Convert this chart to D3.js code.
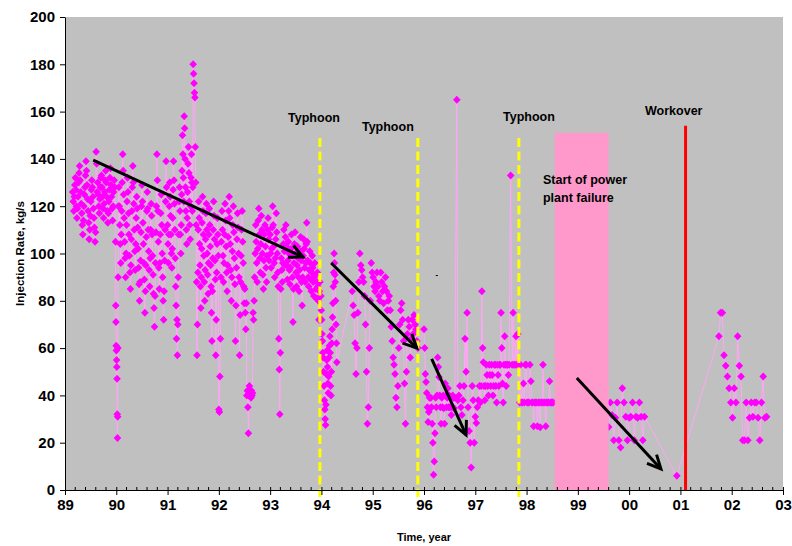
<!DOCTYPE html>
<html><head><meta charset="utf-8">
<script src="https://cdn.jsdelivr.net/npm/d3@7"></script>
<style>
body{margin:0;background:#fff;}
svg{display:block;}
text{font-family:"Liberation Sans",Arial,sans-serif;font-weight:bold;fill:#000;}
</style>
</head><body>
<svg id="chart" width="792" height="546"></svg>
<script>
// ---------- data ----------
const xTickYears = [89,90,91,92,93,94,95,96,97,98,99,100,101,102,103];
const yTicks = [0,20,40,60,80,100,120,140,160,180,200];

// time spans [start, end] (decimal year, 89 = 1989) for each block of readings
const segSpans = [
  [89.15, 89.97], [89.985, 90.04], [90.05, 90.98], [91.0, 91.99], [92.0, 92.98],
  [93.0, 93.98], [93.99, 94.3], [94.6, 95.88], [96.0, 96.6], [96.64, 96.64],
  [96.66, 97.08], [97.1, 97.66], [97.69, 97.69], [97.72, 98.52], [99.6, 100.3],
  [100.93, 100.93], [101.75, 102.68]
];
// injection rate readings, kg/s
const rate1989 = [126,122,118,124,129,132,127,120,115,119,124,130,134,137,131,126,121,117,112,108,
  114,120,125,128,133,139,135,129,123,118,113,106,110,116,122,127,131,128,124,119,
  115,111,105,109,143,138,126,130,125,120,117,123,128,132,133,128,124,119,115,121,
  126,131,135,130,124,118,113,117,122,127,132,136,129,124,119,114,120,126,131,128];
const rate1990drop = [105,78,71,61,59,55,52,47,32,22,31,60,90,120];
const rate1990 = [128,120,112,104,96,108,118,130,142,135,125,115,105,98,90,100,112,122,132,126,
  117,108,99,92,85,95,106,118,128,137,130,121,110,101,93,104,115,124,119,111,
  102,94,87,80,88,97,109,120,129,122,113,104,96,89,75,84,95,107,118,126,
  119,110,101,93,86,98,110,121,116,108,99,91,83,77,69,82,96,109,120,142,
  131,118,105,94,85,96,108,117,125,112,100,90,80,72,84,97,110,122,139,128];
const rate1991 = [112,104,96,108,120,130,124,116,108,100,94,102,115,127,139,131,121,110,98,86,
  78,64,72,57,70,90,108,122,128,118,108,100,112,125,135,150,142,132,122,158,
  153,140,128,118,110,104,115,126,138,145,134,122,112,106,120,132,142,130,118,128,
  180,176,172,168,166,145,130,112,88,57,70,92,110,122,115,104,95,86,77,90,
  102,113,124,118,108,99,88,80,93,106,117,121,110,100,91,83,96,108,119,112,
  103,95,86,75,63,84,98,110,122,116,106,97,89,57,72,92,104,115,108,99];
const rate1992 = [34,33,48,64,90,105,118,110,99,88,96,108,121,114,103,92,84,95,107,118,
  124,115,104,93,80,90,101,112,120,109,98,87,63,78,94,106,117,111,100,90,
  57,74,88,99,110,118,105,96,86,79,85,75,68,79,40,42,35,24,40,44,
  41,40,39,42,40,41,75,72,80,90,100,112,105,96,88,102,114,119,108,98,
  92,104,116,110,100,91,85,97,108,112,103,94,88,99,110,115,106,97];
const rate1993 = [108,100,94,102,111,120,112,103,96,90,98,106,117,109,100,92,86,64,51,32,
  58,85,98,93,88,96,104,110,101,95,107,112,103,95,89,97,105,100,93,87,
  94,102,108,99,90,71,85,96,104,109,100,92,86,95,103,98,90,84,93,101,
  107,97,88,78,90,99,106,102,94,88,96,104,113,105,97,90,86,93,101,96,
  89,84,92,99,94,88,82,90,96,91,85,81,88,92,86,80,72,84,88,82];
const rate1994a = [82,76,72,66,63,58,56,50,44,38,34,30,27.5,36,49,55,59,52,45,41,
  48,56,61,65,58,44,40,50,62,68,73,79,86,92,100,96,91,88,80,70,62,54];
const rate1994b = [84,78,74,62,49,60,75,88,100,95,93,90,88,82,70,50,28,35,
  60,80,96,92,90,86,84,88,92,86,82,80,92,88,84,79,86,90,84,76,80,82,
  76,69,63,56,53,49,39,35,44,60,
  70,76,79,72,63,45,28,50,66,72,69,56,64,72,66,74,70,68,63,60];
const rate1996a = [68,60,49,45.7,41,35,28.8,33,39,34.6,39,35,28,20,6.5,12,24,39,35,40,
  56,52,47.8,40,35,28,39,35,40,34.6,28,45,40,35,39,43,35,40,35,39,31.7,35,40,39,34.6,39];
const rate1996spike = [165];
const rate1996b = [38,40,44,35,31.7,38,44,64,50,75,35,25,20,9.5,44,38,20,31,28.3,35,38,44];
const rate1997a = [37,44,84,60,54,44,38,44,53,48.6,44,40,53,48.6,44,53,48.6,40,44,53,
  53,44,37,53,48.6,44,53,53,75,60,45,37,53,65,53,44,53,53,48.6,53];
const rate1997spike = [133];
const rate1997b = [53,75,53,53,65,53,66,53,37,53,37,37,45,37,53,53,37,37,37,53,
  46,37,37,27,37,37,37,27,37,37,26.5,37,37,53,37,37,27,37,37,37,46,37,37,37,37];
const rate1999 = [26.6,37,31.7,21,30.5,37,21,18,43,37,31,21,30.5,31,37,21,31,30.5,37,31,21,31];
const rate2000 = [6];
const rate2001 = [65,75,75,57,52.5,48,43,37,30.5,43,37,65,52.5,48,21,21,37,21,30.5,37,31,37,37,30.5,21,37,48,30.5,31];
const segValues = [rate1989, rate1990drop, rate1990, rate1991, rate1992, rate1993, rate1994a, rate1994b,
  rate1996a, rate1996spike, rate1996b, rate1997a, rate1997spike, rate1997b, rate1999, rate2000, rate2001];

// annotations (decimal year / kg/s)
const typhoonYears = [93.97, 95.88, 97.85];
const typhoonLabelPos = [[93.35, 155.6], [94.79, 151.8], [97.54, 156.0]];
const typhoonLabel = "Typhoon";
const typhoonTop = 148.8;
const failureSpan = [98.55, 99.6];
const failureTop = 151;
const failureLabel = ["Start of power", "plant failure"];
const failureLabelPos = [[98.32, 129.4], [98.32, 121.8]];
const workoverYear = 101.1;
const workoverTop = 154;
const workoverLabel = "Workover";
const workoverLabelPos = [100.31, 158.6];
const trendArrows = [
  [[89.55, 139.5], [93.64, 98.5]],
  [[94.19, 96.0], [95.86, 60.0]],
  [[96.15, 55.4], [96.82, 23.3]],
  [[98.98, 47.4], [100.62, 8.9]]
];
const xTitle = "Time, year";
const yTitle = "Injection Rate, kg/s";

// ---------- build ----------
const points = [];
segSpans.forEach((span, i) => {
  const vals = segValues[i], n = vals.length;
  vals.forEach((v, j) => {
    const t = n === 1 ? span[0] : span[0] + (span[1] - span[0]) * j / (n - 1);
    points.push([t, v]);
  });
});

const svg = d3.select("#chart");
const L = 65, R = 783, T = 17, B = 490;
const x = d3.scaleLinear().domain([89, 103]).range([L, R]);
const y = d3.scaleLinear().domain([0, 200]).range([B, T]);

svg.append("rect").attr("x", L).attr("y", T).attr("width", R - L).attr("height", B - T).attr("fill", "#C0C0C0");

// data line + markers
svg.append("path").datum(points)
  .attr("d", d3.line().x(d => x(d[0])).y(d => y(d[1])))
  .attr("fill", "none").attr("stroke", "#FFA6F6").attr("stroke-width", 1);
svg.append("g").selectAll("path").data(points).join("path")
  .attr("transform", d => `translate(${x(d[0])},${y(d[1])})`)
  .attr("d", "M0,-4L3.8,0L0,4L-3.8,0Z")
  .attr("fill", "#FF00FF");

// power plant failure band
svg.append("rect")
  .attr("x", x(failureSpan[0])).attr("width", x(failureSpan[1]) - x(failureSpan[0]))
  .attr("y", y(failureTop)).attr("height", y(0) - y(failureTop))
  .attr("fill", "#FF99CC");

// typhoon lines
svg.append("g").selectAll("line").data(typhoonYears).join("line")
  .attr("x1", d => x(d)).attr("x2", d => x(d))
  .attr("y1", y(typhoonTop)).attr("y2", y(-3))
  .attr("stroke", "#FFFF00").attr("stroke-width", 3).attr("stroke-dasharray", "9,4.5");

// workover line
svg.append("line").attr("x1", x(workoverYear)).attr("x2", x(workoverYear))
  .attr("y1", y(workoverTop)).attr("y2", y(0))
  .attr("stroke", "#FF0000").attr("stroke-width", 3);

// trend arrows
const ag = svg.append("g").attr("stroke", "#000").attr("stroke-width", 3).attr("fill", "none").attr("stroke-linecap", "butt");
trendArrows.forEach(([s, e]) => {
  const x1 = x(s[0]), y1 = y(s[1]), x2 = x(e[0]), y2 = y(e[1]);
  const a = Math.atan2(y2 - y1, x2 - x1), hl = 15, ha = 0.45;
  ag.append("line").attr("x1", x1).attr("y1", y1).attr("x2", x2).attr("y2", y2);
  ag.append("path").attr("d",
    `M${x2 - hl * Math.cos(a - ha)},${y2 - hl * Math.sin(a - ha)}L${x2},${y2}L${x2 - hl * Math.cos(a + ha)},${y2 - hl * Math.sin(a + ha)}`)
    .attr("stroke-linejoin", "miter");
});

// tiny speck
svg.append("rect").attr("x", x(96.23)).attr("y", y(90.9)).attr("width", 2).attr("height", 1).attr("fill", "#000");

// labels
svg.append("g").selectAll("text").data(typhoonLabelPos).join("text")
  .attr("x", d => x(d[0])).attr("y", d => y(d[1])).attr("font-size", 12.5).text(typhoonLabel);
svg.append("g").selectAll("text").data(failureLabelPos).join("text")
  .attr("x", d => x(d[0])).attr("y", d => y(d[1])).attr("font-size", 12.5).text((d, i) => failureLabel[i]);
svg.append("text").attr("x", x(workoverLabelPos[0])).attr("y", y(workoverLabelPos[1]))
  .attr("font-size", 12.5).text(workoverLabel);

// axes
const yAxis = svg.append("g").attr("transform", `translate(${L},0)`)
  .call(d3.axisLeft(y).tickValues(yTicks).tickSize(5).tickSizeOuter(0).tickPadding(5));
yAxis.selectAll("text").attr("font-size", 15).style("font-family", '"Liberation Sans",Arial,sans-serif').style("font-weight", "bold").attr("fill", "#000");
yAxis.selectAll("line,path").attr("stroke", "#000");

const minorTicks = [];
xTickYears.slice(0, -1).forEach(yr => { for (let k = 1; k < 5; k++) minorTicks.push(yr + k / 5); });
svg.append("g").selectAll("line").data(minorTicks).join("line")
  .attr("x1", d => x(d)).attr("x2", d => x(d)).attr("y1", B - 3).attr("y2", B)
  .attr("stroke", "#000");

const xAxis = svg.append("g").attr("transform", `translate(0,${B})`)
  .call(d3.axisBottom(x).tickValues(xTickYears).tickSize(5).tickSizeOuter(0).tickPadding(4.5)
    .tickFormat(d => String(d % 100).padStart(2, "0")));
xAxis.selectAll("text").attr("font-size", 15).style("font-family", '"Liberation Sans",Arial,sans-serif').style("font-weight", "bold").attr("fill", "#000");
xAxis.selectAll("line,path").attr("stroke", "#000");
xAxis.selectAll(".tick line").attr("y1", -3);

svg.append("text").attr("x", (L + R) / 2).attr("y", 541).attr("text-anchor", "middle")
  .attr("font-size", 11).text(xTitle);
svg.append("text").attr("transform", `translate(24,${(T + B) / 2}) rotate(-90)`)
  .attr("text-anchor", "middle").attr("font-size", 11.5).text(yTitle);
</script>
</body></html>
